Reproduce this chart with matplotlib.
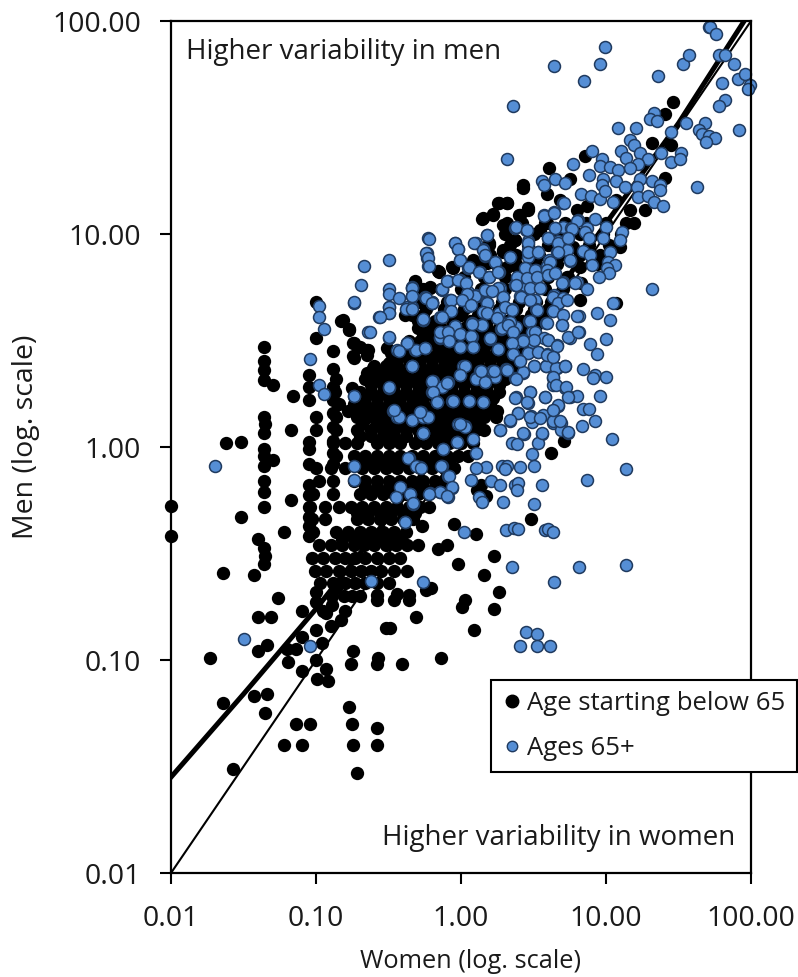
import numpy as np
import matplotlib
matplotlib.use('Agg')
import matplotlib.pyplot as plt
from matplotlib.lines import Line2D
from matplotlib.ticker import FixedLocator, FixedFormatter, NullLocator

plt.rcParams['font.family'] = ['Open Sans', 'DejaVu Sans']

W, H = 798, 977
TEXT = '#1a1a1a'
BLUE = '#558ed5'
BLUE_EDGE = '#1f3a5f'

# All values are log10(variability), women first, men second.
black_sparse = [
(-2.0,-0.275),(-2.0,-0.42),(-1.62,0.02),(-1.52,0.025),(-1.52,-0.33),(-1.64,-0.59),(-1.43,-0.60),
(-1.36,0.47),(-1.36,0.405),(-1.36,0.36),(-1.36,0.315),(-1.30,0.29),(-1.36,0.14),(-1.35,0.11),(-1.36,0.065),
(-1.36,-0.01),(-1.36,-0.04),(-1.30,-0.06),(-1.36,-0.09),(-1.36,-0.16),(-1.36,-0.21),(-1.36,-0.28),
(-1.16,0.24),(-1.17,0.08),(-1.17,-0.25),(-1.22,-0.40),(-1.40,-0.43),(-1.36,-0.475),(-1.35,-0.51),(-1.36,-0.55),
(-1.05,0.34),(-1.05,0.28),(-1.05,0.22),(-1.00,0.14),(-1.00,0.08),(-1.05,0.025),(-1.05,-0.01),(-1.05,-0.08),
(-1.00,-0.10),(-1.05,-0.18),(-1.05,-0.225),(-1.05,-0.28),(-1.05,-0.33),(-1.05,-0.37),(-1.05,-0.42),
(-0.88,0.28),(-0.88,0.22),(-0.88,0.16),(-0.88,0.095),(-0.88,0.03),(-0.88,-0.03),(-0.88,-0.08),
(-1.00,0.51),(-0.88,0.45),(-0.88,0.365),(-0.83,0.59),(-0.77,0.55),(-0.74,0.49),(-0.70,0.47),(-0.65,0.455),
(-0.74,0.42),(-0.65,0.43),(-1.00,0.68),
(-1.73,-0.99),(-1.64,-1.20),(-1.57,-1.51),(-1.43,-1.17),(-1.34,-1.16),(-1.35,-1.25),(-1.14,-1.30),(-1.04,-1.30),
(-1.22,-1.40),(-1.10,-1.40),(-0.77,-1.22),(-0.75,-1.30),(-0.745,-1.40),(-0.72,-1.53),(-0.58,-1.32),(-0.58,-1.40),
(-1.40,-0.80),(-1.31,-0.80),(-1.26,-0.71),(-1.10,-0.77),(-1.40,-0.96),(-1.34,-0.93),(-1.19,-1.01),(-1.20,-0.95),
(-1.14,-0.95),(-1.10,-0.89),(-1.00,-0.86),(-0.96,-0.92),(-1.00,-1.00),(-1.10,-1.05),(-0.93,-1.04),(-0.995,-1.09),
(-0.915,-1.10),(-0.745,-0.96),(-0.76,-1.02),(-0.57,-0.99),(-0.58,-1.02),(-0.41,-1.02),(-0.14,-0.99),(-0.31,-0.80),
(-0.52,-0.85),(-0.49,-0.85),(-0.58,-0.695),(-0.58,-0.72),(-0.46,-0.72),(-0.44,-0.69),(-0.36,-0.695),(-0.36,-0.72),
(-0.24,-0.67),(-0.81,-0.70),(-0.75,-0.70),(-0.70,-0.70),(-0.80,-0.77),(-0.83,-0.81),(-0.90,-0.84),(-0.93,-0.78),
(-0.89,-0.74),(-1.00,-0.73),(-0.95,-0.77),(-0.89,-0.70),(-1.00,-0.68),(-0.86,-0.66),
(-0.22,-0.28),(-0.27,-0.37),(-0.16,-0.48),(-0.10,-0.46),(0.16,-0.60),(-0.02,-0.55),(0.23,-0.51),(0.10,-0.41),
(-0.05,-0.36),(0.48,-0.34),(-0.21,-0.66),(0.01,-0.75),(0.03,-0.72),(0.09,-0.86),(-0.37,-0.58),
(0.23,-0.76),(0.26,-0.68),(0.14,-0.18),(0.17,-0.23),(0.11,-0.20),(0.62,-0.03),(0.71,0.03),(0.25,0.17),(0.19,0.23),
]
black_upper = [
(1.46,1.62),(1.41,1.563),(1.315,1.426),(1.45,1.418),(1.41,1.264),(1.27,1.113),(0.43,1.23),(0.43,1.215),
(0.61,1.31),(0.855,1.368),(0.75,1.26),(0.257,1.147),(0.32,1.144),(0.218,1.094),(0.142,1.07),(0.464,1.113),
(0.40,1.09),(0.315,1.05),(0.37,0.972),(0.19,0.948),(-0.15,0.82),(-0.065,0.847),(-0.317,0.776),(-0.214,0.753),
(0.29,0.925),(0.82,0.69),(1.07,0.674),(0.59,1.19),(0.68,1.16),(0.80,1.113),(0.87,1.13),(1.07,1.16),(1.165,1.113),
(1.19,1.05),(0.545,1.02),(0.59,1.05),(0.775,0.94),(1.095,0.94),(0.82,0.847),(0.90,0.893),(0.73,0.80),(0.83,0.77),
(0.315,0.847),(0.177,0.862),(0.085,0.878),(0.384,0.847),
(0.26,1.144),(0.315,1.144),(0.155,1.074),(0.223,1.09),(0.465,1.12),(0.407,1.09),(0.293,1.043),(0.373,0.972),
(0.293,0.917),(0.19,0.957),(-0.156,0.824),(-0.052,0.84),(-0.317,0.777),(-0.213,0.745),(-0.386,0.62),(-0.816,0.597),
(-0.77,0.553),(-0.742,0.487),(-0.639,0.456),(-0.742,0.425),(-0.512,0.464),(-0.50,0.393),(-0.604,0.37),(-0.65,0.346),
(-0.754,0.276),
]
black_core_men = [-0.64,-0.58,-0.52,-0.46,-0.40,-0.34,-0.28,-0.22,-0.16,-0.10,-0.04,0.02,0.08,0.14,0.20,0.26,0.32,
                  0.38,0.44,0.50,0.56,0.62,0.68,0.74,0.80,0.86,0.90,0.95,1.00,1.05,
                  -0.43,-0.31,-0.19,-0.07,0.05,0.11,0.17,0.23,0.29,0.35,0.41,0.47,0.53,0.59,0.65]
black_core_women = [
[-0.97,-0.88,-0.80,-0.73,-0.66,-0.58,-0.50],
[-1.01,-0.93,-0.84,-0.76,-0.69,-0.62,-0.55,-0.46],
[-1.03,-0.95,-0.87,-0.80,-0.73,-0.66,-0.58,-0.50,-0.42],
[-0.98,-0.90,-0.82,-0.74,-0.67,-0.60,-0.52,-0.45,-0.37,-0.30],
[-1.02,-0.86,-0.78,-0.70,-0.62,-0.54,-0.46,-0.38],
[-1.03,-0.94,-0.72,-0.64,-0.56,-0.48,-0.40,-0.33],
[-1.04,-0.94,-0.84,-0.76,-0.68,-0.60,-0.52,-0.44,-0.36,-0.28],
[-1.02,-0.88,-0.70,-0.62,-0.54,-0.46,-0.38,-0.30,-0.23],
[-0.98,-0.88,-0.74,-0.66,-0.58,-0.50,-0.42,-0.34,-0.26,-0.18,-0.12],
[-0.90,-0.80,-0.68,-0.60,-0.52,-0.44,-0.36,-0.28,-0.20,-0.12,-0.05],
[-0.86,-0.74,-0.66,-0.58,-0.50,-0.42,-0.34,-0.26,-0.18,-0.10,-0.02,0.05],
[-0.88,-0.80,-0.72,-0.58,-0.50,-0.42,-0.32,-0.24,-0.16,-0.08,0.00,0.08],
[-0.86,-0.72,-0.62,-0.54,-0.46,-0.38,-0.30,-0.22,-0.14,-0.06,0.02,0.10,0.16],
[-0.86,-0.72,-0.64,-0.56,-0.48,-0.40,-0.32,-0.24,-0.16,-0.08,0.00,0.08,0.16,0.24],
[-0.84,-0.74,-0.66,-0.58,-0.50,-0.42,-0.34,-0.26,-0.18,-0.10,-0.02,0.06,0.14,0.20],
[-0.87,-0.70,-0.62,-0.54,-0.46,-0.38,-0.30,-0.22,-0.14,-0.06,0.02,0.10,0.18,0.26],
[-0.86,-0.66,-0.58,-0.50,-0.42,-0.34,-0.26,-0.18,-0.10,-0.02,0.06,0.14,0.22,0.30],
[-0.60,-0.52,-0.44,-0.36,-0.28,-0.20,-0.12,-0.04,0.04,0.12,0.20,0.28,0.36],
[-0.48,-0.40,-0.32,-0.24,-0.16,-0.08,0.00,0.08,0.16,0.24,0.32,0.40],
[-0.36,-0.28,-0.20,-0.12,-0.04,0.04,0.12,0.20,0.28,0.36,0.44],
[-0.30,-0.22,-0.14,-0.06,0.02,0.10,0.18,0.26,0.34,0.42,0.50],
[-0.34,-0.26,-0.12,0.00,0.12,0.24,0.36,0.48,0.56],
[-0.30,-0.20,-0.10,0.04,0.16,0.28,0.40,0.52,0.62],
[-0.26,-0.14,0.00,0.14,0.30,0.44,0.58,0.70],
[0.02,0.16,0.30,0.46,0.60,0.74],
[0.10,0.24,0.38,0.52,0.66,0.80,0.94],
[0.20,0.38,0.54,0.68,0.82,0.96],
[0.34,0.46,0.60,0.74,0.88,1.02],
[0.30,0.50,0.66,0.82,0.98,1.10],
[0.42,0.58,0.72,0.86,1.00,1.14],
[-0.82,-0.74,-0.66,-0.58,-0.50,-0.42],
[-0.72,-0.64,-0.56,-0.48,-0.40,-0.32],
[-0.66,-0.58,-0.50,-0.42,-0.34,-0.26,-0.18],
[-0.72,-0.64,-0.56,-0.48,-0.40,-0.32,-0.24,-0.16,-0.08],
[-0.70,-0.62,-0.54,-0.46,-0.38,-0.28,-0.20,-0.12,-0.04,0.04],
[-0.68,-0.58,-0.50,-0.42,-0.34,-0.26,-0.18,-0.10,-0.02,0.06,0.12],
[-0.78,-0.70,-0.62,-0.54,-0.46,-0.38,-0.30,-0.22,-0.14,-0.06,0.02,0.10,0.18],
[-0.66,-0.58,-0.50,-0.42,-0.34,-0.26,-0.18,-0.10,-0.02,0.06,0.14,0.22],
[-0.62,-0.54,-0.46,-0.38,-0.30,-0.22,-0.14,-0.06,0.02,0.10,0.18,0.26],
[-0.56,-0.48,-0.40,-0.32,-0.24,-0.16,-0.08,0.00,0.08,0.16,0.24,0.32],
[-0.44,-0.36,-0.28,-0.20,-0.12,-0.04,0.04,0.12,0.20,0.28,0.36],
[-0.32,-0.24,-0.16,-0.08,0.00,0.08,0.16,0.24,0.32,0.40],
[-0.26,-0.18,-0.10,-0.02,0.06,0.14,0.22,0.30,0.38,0.46],
[-0.30,-0.18,-0.06,0.06,0.18,0.30,0.42,0.54],
[-0.24,-0.12,0.02,0.14,0.26,0.38,0.50,0.60],
]
blue_top = [
(0.99,1.88),(0.64,1.79),(0.96,1.80),(0.85,1.72),(0.36,1.60),(0.32,1.35),(1.36,1.74),(1.53,1.80),(1.57,1.84),
(1.71,1.97),(1.72,1.97),(1.76,1.94),(1.78,1.84),(1.82,1.84),(1.88,1.80),(1.91,1.73),(1.96,1.75),(1.99,1.70),
(1.98,1.68),(1.80,1.71),(1.82,1.63),(1.78,1.60),(1.92,1.49),(1.63,1.22),(1.55,1.52),(1.68,1.52),(1.64,1.49),
(1.66,1.47),(1.71,1.46),(1.75,1.45),(1.69,1.43),(1.45,1.48),(1.33,1.57),(1.30,1.54),(1.35,1.53),(1.08,1.50),
(1.21,1.50),(1.52,1.38),(1.45,1.34),(1.51,1.35),(1.38,1.38),(1.32,0.74),(1.05,0.675),
(1.165,1.441),(1.19,1.42),(1.10,1.39),(1.14,1.355),(1.235,1.38),(1.29,1.35),(1.22,1.33),(1.165,1.31),(0.90,1.39),
(0.775,1.33),(0.97,1.35),(0.96,1.32),(1.03,1.315),(1.085,1.30),(0.88,1.276),(0.98,1.26),(1.07,1.25),(0.97,1.23),
(1.13,1.22),(1.235,1.26),(1.215,1.22),(1.22,1.175),(1.315,1.25),(1.37,1.23),(1.37,1.207),(1.29,1.18),(1.33,1.15),
(1.395,1.13),(0.56,1.25),(0.57,1.23),(0.65,1.26),(0.72,1.24),(0.83,1.19),(0.895,1.18),(0.96,1.165),(0.99,1.20),
(1.05,1.15),(0.705,1.147),(0.64,1.105),(0.57,1.09),(0.81,1.065),(0.925,1.07),(0.37,1.03),(0.45,1.02),(0.18,0.995),
(-0.225,0.98),(-0.04,0.96),(-0.02,0.93),(0.10,0.96),(-0.235,0.91),(-0.235,0.885),(-0.225,0.85),(0.15,0.93),
(0.165,0.897),(-0.01,0.88),(0.34,0.893),(0.235,0.87),(0.465,0.965),(0.465,0.925),(0.53,0.917),(0.465,0.89),
(0.65,1.03),(0.705,1.034),(0.76,1.03),(0.866,1.03),(0.855,1.01),(1.0,1.034),(1.11,1.01),(1.095,0.97),(0.98,0.98),
(0.88,0.98),(0.74,0.98),(0.67,0.965),(0.60,0.98),(0.665,0.917),(0.73,0.925),(0.84,0.92),(0.89,0.90),(1.03,0.917),
(1.015,0.87),(1.06,0.855),(1.005,0.84),(1.02,0.815),(0.95,0.80),(0.90,0.855),(0.61,0.88),(0.75,0.875),(0.59,0.85),
(0.52,0.83),(0.45,0.84),(0.44,0.80),(0.385,0.79),(0.37,0.76),(0.19,0.80),(0.13,0.82),(0.05,0.84),(0.26,0.82),
(0.27,0.745),(-0.01,0.785),(-0.09,0.78),(-0.13,0.737),(-0.34,0.745),(-0.34,0.71),(-0.25,0.705),(-0.20,0.68),
(-0.075,0.69),(0.05,0.73),(0.11,0.71),(0.18,0.675),(0.29,0.706),(0.45,0.745),(0.545,0.745),(0.64,0.71),(0.705,0.776),
(0.67,0.675),(0.80,0.776),(0.87,0.74),(0.42,0.706),(0.51,0.69),(-0.35,0.66),
]
blue_mid = [
(0.935,0.627),(1.03,0.596),(0.815,0.615),(1.0,0.505),(0.89,0.482),(0.94,0.435),(0.815,0.538),(0.75,0.51),(0.66,0.479),
(0.844,0.365),(0.925,0.338),(1.0,0.33),(0.91,0.322),(0.72,0.38),(0.66,0.37),(0.585,0.38),(0.50,0.38),(0.41,0.408),
(0.356,0.437),(0.464,0.443),(0.53,0.448),(0.59,0.437),(0.637,0.427),(0.425,0.349),(0.372,0.322),(0.31,0.365),
(0.234,0.327),(0.165,0.307),(0.10,0.322),(0.13,0.358),(0.216,0.358),(-0.007,0.338),(0.016,0.38),(-0.09,0.304),
(-0.133,0.283),(-0.2,0.307),(-0.2,0.26),(-0.168,0.213),(-0.06,0.217),(0.057,0.217),(0.154,0.213),(-0.34,0.38),
(0.637,0.322),(0.637,0.291),(0.72,0.275),(0.58,0.233),(0.75,0.236),(0.80,0.241),(0.96,0.241),(0.377,0.233),
(0.476,0.26),(0.464,0.205),(0.67,0.192),(0.637,0.17),(0.844,0.18),(0.88,0.18),(0.395,0.158),(0.483,0.146),
(0.563,0.15),(0.338,0.122),(0.487,0.119),(0.632,0.114),(0.687,0.114),(0.832,0.098),(0.924,0.122),(0.687,0.08),
(0.74,0.067),(0.556,0.061),(0.437,0.061),(0.27,0.08),(1.039,0.037),(0.533,0.02),(0.35,0.02),(0.384,0.014),
(0.027,0.099),(-0.01,0.108),(-0.265,0.067),(-0.025,0.025),(0.085,0.037),(-0.122,-0.01),(0.10,-0.03),(0.49,-0.034),
(0.506,-0.09),(0.41,-0.095),(0.28,-0.09),(0.315,-0.09),(0.30,-0.105),(0.17,-0.095),(0.10,-0.10),(-0.134,-0.09),
(-0.283,-0.095),(-0.356,-0.053),(-0.087,-0.136),(0.07,-0.155),(0.21,-0.16),(0.27,-0.178),(0.372,-0.18),(0.395,-0.17),
(0.384,-0.2),(0.56,-0.178),(0.87,-0.155),(1.135,-0.102),(0.126,-0.236),(0.147,-0.26),(0.287,-0.26),(0.50,-0.268),
(-0.064,-0.194),(-0.145,-0.21),(-0.09,-0.233),(-0.214,-0.218),(-0.352,-0.22),(-0.333,-0.268),(-0.386,-0.35),
(0.023,-0.398),(0.31,-0.39),(0.368,-0.379),(0.395,-0.385),(0.58,-0.39),(0.60,-0.387),(0.632,-0.40),(0.35,-0.565),
(0.816,-0.565),(1.135,-0.554),(0.64,-0.632),(-0.265,-0.632),(0.446,-0.867),(0.526,-0.878),(0.41,-0.934),(0.526,-0.934),
(0.614,-0.934),
(-0.34,0.753),(-0.34,0.709),(-0.35,0.651),(-0.2,0.678),(-0.133,0.74),(-0.076,0.687),(-0.076,0.638),(-0.145,0.609),
(-0.265,0.596),(0.057,0.662),(0.104,0.714),(0.172,0.632),(0.18,0.674),(0.262,0.628),(0.287,0.706),(0.35,0.646),
(0.41,0.709),(0.517,0.646),(0.632,0.64),(0.64,0.714),(0.67,0.674),(0.694,0.573),(0.584,0.584),(0.51,0.541),
(0.471,0.593),(0.377,0.565),(0.32,0.58),(0.276,0.552),(0.138,0.573),(0.073,0.58),(-0.041,0.565),(0.073,0.518),
(-0.007,0.53),(-0.099,0.541),(-0.145,0.51),(-0.08,0.498),(-0.007,0.471),(0.085,0.471),(0.20,0.505),(0.257,0.458),
(0.372,0.487),(0.43,0.502),(0.49,0.494),(0.60,0.502),(-0.375,0.49),(-0.25,0.463),(-0.317,0.455),
]
blue_low = [
(-1.70,-0.09),(-0.977,0.663),(-0.977,0.612),(-0.945,0.554),(-1.04,0.411),(-0.977,0.29),(-0.945,0.247),(-0.738,0.677),
(-0.738,0.24),(-0.738,-0.09),(-0.738,-0.155),(-0.644,0.538),(-0.563,0.609),(-0.50,0.627),(-0.50,0.659),(-0.50,0.513),
(-0.44,0.455),(-0.375,0.49),(-0.375,0.656),(-0.34,0.656),(-0.26,0.596),(-0.20,0.674),(-0.133,0.609),(-0.076,0.643),
(-0.04,0.568),(-0.094,0.538),(-0.145,0.515),(-0.083,0.502),(-0.31,0.455),(-0.248,0.463),(-0.34,0.38),(-0.50,0.278),
(-0.196,0.31),(-0.094,0.302),(-0.133,0.28),(-0.196,0.26),(-0.163,0.213),(-0.058,0.217),(-0.467,0.17),(-0.44,0.139),
(-0.34,0.127),(-0.278,0.166),(-0.26,0.139),(-0.237,0.139),(-0.26,0.067),(-0.122,-0.01),(-0.03,0.025),(-0.02,0.108),
(-0.363,-0.053),(-0.31,-0.088),(-0.278,-0.097),(-0.138,-0.089),(-0.085,-0.136),(-0.064,-0.19),(-0.145,-0.21),
(-0.094,-0.23),(-0.218,-0.22),(-0.42,-0.186),(-0.352,-0.22),(-0.448,-0.236),(-0.33,-0.265),(-0.386,-0.35),
(-1.50,-0.903),(-1.04,-0.933),(-0.62,-0.628),
]
blue_dense = [
(-0.22,0.975),(-0.24,0.91),(-0.23,0.886),(-0.22,0.85),(-0.50,0.88),(-0.67,0.85),(-0.69,0.76),(-0.74,0.68),(-0.50,0.74),
(-0.50,0.72),(-0.43,0.70),(-0.50,0.656),(-0.50,0.63),(-0.56,0.61),(-0.63,0.54),(-0.50,0.515),(-0.37,0.49),(-0.43,0.45),
(-0.34,0.745),(-0.34,0.71),(-0.38,0.65),(-0.34,0.65),(-0.26,0.60),(-0.24,0.70),(-0.20,0.675),(-0.13,0.74),(-0.10,0.78),
(-0.02,0.785),(0.035,0.77),(-0.07,0.69),(-0.07,0.64),(-0.13,0.61),(-0.04,0.57),(-0.145,0.54),(-0.09,0.54),(-0.085,0.50),
(-0.005,0.53),(0.07,0.52),(-0.005,0.47),(0.085,0.47),(0.03,0.38),(-0.005,0.34),(-0.34,0.38),(-0.50,0.28),(-0.74,0.24),
(-0.20,0.31),(-0.10,0.30),(-0.195,0.26),(-0.165,0.213),(-0.055,0.216),(0.057,0.216),(0.155,0.213),(0.10,0.32),(0.166,0.307),
(0.136,0.357),(0.226,0.357),(0.316,0.362),(0.43,0.351),(0.376,0.318),(0.50,0.382),(0.586,0.382),(0.656,0.37),(0.72,0.382),
(0.636,0.33),(0.656,0.29),(0.725,0.28),(0.476,0.26),(0.453,0.213),(0.373,0.229),(0.58,0.234),(0.74,0.237),(0.396,0.16),
(0.336,0.127),(0.266,0.08),(0.476,0.143),(0.546,0.135),(0.636,0.12),(0.683,0.12),(0.672,0.198),(0.636,0.174),(0.556,0.065),
(0.43,0.065),(0.74,0.072),(0.03,0.096),(-0.005,0.11),(-0.34,0.127),(-0.26,0.143),(-0.23,0.14),(-0.43,0.14),(-0.465,0.174),
(-0.26,0.068),(-0.28,0.166),
(-0.04,0.957),(-0.02,0.928),(-0.005,0.878),(0.09,0.96),(0.18,0.996),(0.155,0.925),(0.166,0.90),(0.058,0.847),(0.126,0.82),
(0.19,0.80),(0.235,0.87),(0.258,0.82),(0.34,0.894),(0.376,1.032),(0.453,1.02),(0.57,1.086),(0.644,1.10),(0.71,1.144),
(0.80,1.063),(0.764,1.024),(0.65,1.027),(0.603,0.98),(0.672,0.957),(0.74,0.983),(0.752,0.878),(0.672,0.917),(0.465,0.957),
(0.465,0.917),(0.534,0.917),(0.614,0.87),(0.44,0.84),(0.51,0.83),(0.59,0.83),(0.384,0.80),(0.453,0.792),(0.522,0.797),
(0.603,0.808),(0.65,0.816),(0.696,0.772),(0.787,0.772),(0.258,0.745),(0.292,0.706),(0.376,0.76),(0.476,0.745),(0.546,0.745),
(0.416,0.706),(0.476,0.69),(0.636,0.706),(0.706,0.698),(0.672,0.675),(0.729,0.69),(0.096,0.71),(0.166,0.737),(0.212,0.734),
(0.04,0.72),(0.005,0.69),(0.066,0.667),(0.178,0.675),(0.306,0.656),(0.35,0.644),(0.155,0.636),(0.178,0.628),(0.522,0.644),
(0.636,0.64),(0.706,0.62),(0.798,0.615),(0.246,0.604),(0.34,0.589),(0.143,0.573),(0.074,0.578),(0.28,0.56),(0.326,0.573),
(0.20,0.51),(0.36,0.542),(0.476,0.593),(0.59,0.584),(0.696,0.573),(0.487,0.542),(0.51,0.542),(0.57,0.51),(0.50,0.503),
(0.603,0.503),(0.74,0.515),(0.81,0.54),(0.43,0.50),(0.35,0.487),(0.258,0.46),(0.66,0.476),(0.36,0.437),(0.465,0.44),
(0.534,0.448),(0.59,0.432),(0.636,0.424),(0.407,0.404),
]
trend_women = [-2.0,-1.5,-1.0,-0.5,0.0,0.5,1.0,1.5,2.0]
trend_men = [-1.55,-1.16,-0.76,-0.33,0.11,0.57,1.05,1.52,2.05]
equal_line = [-2.0,2.0]
tick_values = [0.01,0.1,1,10,100]
tick_labels = ['0.01','0.10','1.00','10.00','100.00']

black = list(black_sparse) + list(black_upper)
for m, row in zip(black_core_men, black_core_women):
    black += [(w, m) for w in row]
black = np.array(black)
blue = np.array(blue_top + blue_mid + blue_low + blue_dense)

fig = plt.figure(figsize=(W/100, H/100), dpi=100)
ax = fig.add_axes([171/W, 1-873/H, 580/W, 852/H])
ax.set_xscale('log'); ax.set_yscale('log')
ax.set_xlim(0.01,100); ax.set_ylim(0.01,100)

ax.plot(10.0**np.array(equal_line), 10.0**np.array(equal_line), color='black', lw=1.5, zorder=1)
ax.plot(10.0**np.array(trend_women), 10.0**np.array(trend_men), color='black', lw=3.6, zorder=1)
ax.scatter(10.0**black[:,0], 10.0**black[:,1], s=92, color='black', linewidths=0, zorder=2, clip_on=False)
ax.scatter(10.0**blue[:,0], 10.0**blue[:,1], s=74, color=BLUE, edgecolors=BLUE_EDGE, linewidths=1.1, zorder=3, clip_on=False)

for axis in (ax.xaxis, ax.yaxis):
    axis.set_major_locator(FixedLocator(tick_values))
    axis.set_major_formatter(FixedFormatter(tick_labels))
    axis.set_minor_locator(NullLocator())
ax.tick_params(axis='both', which='major', length=8, width=1.5, labelsize=20.5, color='black', labelcolor=TEXT, direction='out')
ax.tick_params(axis='x', pad=15)
ax.tick_params(axis='y', pad=13.5)
for s in ax.spines.values():
    s.set_linewidth(1.6); s.set_color('black'); s.set_zorder(4)

fig.text(471/W, 1-962/H, 'Women (log. scale)', fontsize=18.3, color=TEXT, ha='center', va='center')
fig.text(26/W, 1-437/H, 'Men (log. scale)', fontsize=20.5, color=TEXT, ha='center', va='center', rotation=90)
fig.text(186/W, 1-52/H, 'Higher variability in men', fontsize=20, color=TEXT, ha='left', va='center')
fig.text(735/W, 1-838/H, 'Higher variability in women', fontsize=20, color=TEXT, ha='right', va='center')

handles = [Line2D([],[],ls='',marker='o',ms=9,mfc='black',mec='black',label='Age starting below 65'),
           Line2D([],[],ls='',marker='o',ms=7.5,mfc=BLUE,mec=BLUE_EDGE,label='Ages 65+')]
leg = fig.legend(handles=handles, loc='upper left', bbox_to_anchor=(491/W, 1-680/H), bbox_transform=fig.transFigure,
                 fontsize=18.5, frameon=True, fancybox=False, framealpha=1, edgecolor='black',
                 borderaxespad=0, borderpad=0.43, handletextpad=0.2, labelspacing=0.78, handlelength=0.78, labelcolor=TEXT)
leg.get_frame().set_linewidth(1.5)
leg.set_zorder(10)
fig.savefig('out.png', dpi=100)
